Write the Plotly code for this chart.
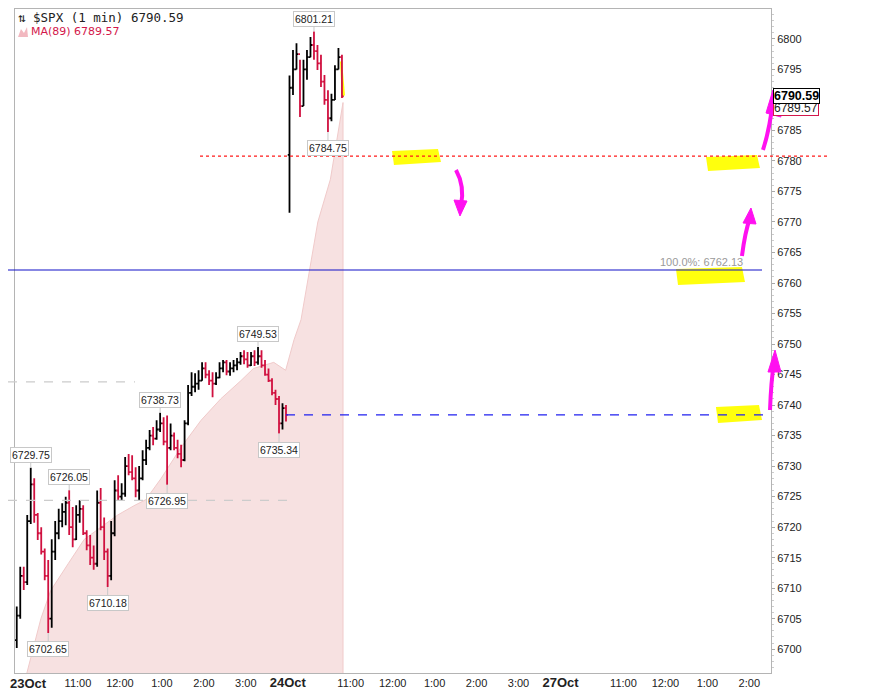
import plotly.graph_objects as go

oct23_open = [6701.5, 6705.5, 6712.0, 6711.0, 6721.0, 6727.0, 6722.0, 6719.0, 6716.0, 6712.0,
              6705.0, 6716.0, 6719.0, 6721.0, 6722.5, 6724.0, 6720.0, 6718.0, 6722.0, 6723.0,
              6719.0, 6717.0, 6715.0, 6714.0, 6724.0, 6720.0, 6716.0, 6712.0, 6719.0, 6726.0,
              6725.0, 6725.5, 6730.0, 6729.0, 6728.0, 6726.0, 6728.0, 6731.0, 6733.0, 6735.0,
              6734.5, 6736.0, 6737.0, 6734.0, 6733.0, 6735.0, 6733.0, 6732.0, 6731.0, 6737.0,
              6742.0, 6743.0, 6743.5, 6744.0, 6746.0, 6745.0, 6744.0, 6743.5, 6744.5, 6746.0,
              6747.0, 6745.5, 6746.0, 6746.5, 6747.0, 6748.0, 6747.5, 6746.5, 6748.0, 6747.0,
              6748.0, 6746.5, 6745.0, 6744.0, 6742.0, 6741.0, 6737.0, 6739.5]
oct23_high = [6707.0, 6713.5, 6713.5, 6722.0, 6729.75, 6728.0, 6722.3, 6720.0, 6716.5, 6714.6,
              6718.0, 6721.0, 6723.0, 6723.9, 6725.0, 6726.05, 6723.3, 6723.6, 6724.4, 6723.6,
              6719.5, 6718.7, 6717.0, 6726.0, 6726.4, 6721.6, 6716.5, 6721.0, 6727.7, 6728.5,
              6727.2, 6731.5, 6732.0, 6731.8, 6729.8, 6730.0, 6732.6, 6734.3, 6735.9, 6736.4,
              6737.5, 6738.73, 6738.0, 6738.3, 6737.0, 6735.5, 6734.3, 6733.5, 6737.5, 6743.3,
              6745.4, 6745.2, 6745.7, 6747.0, 6747.0, 6745.7, 6745.4, 6745.4, 6747.0, 6747.4,
              6747.4, 6747.0, 6747.4, 6747.7, 6748.7, 6749.0, 6748.7, 6748.7, 6749.0, 6749.53,
              6749.0, 6747.4, 6746.0, 6744.4, 6742.5, 6741.5, 6740.3, 6740.0]
oct23_low = [6700.2, 6705.0, 6709.7, 6710.5, 6720.5, 6720.7, 6717.9, 6715.5, 6711.3, 6702.65,
             6703.5, 6714.6, 6718.0, 6720.0, 6720.3, 6718.7, 6716.7, 6717.9, 6720.7, 6718.7,
             6716.2, 6713.8, 6713.0, 6713.5, 6719.5, 6714.6, 6710.18, 6711.3, 6718.5, 6724.4,
             6724.4, 6725.0, 6728.5, 6727.7, 6724.9, 6724.4, 6727.7, 6730.2, 6732.6, 6733.4,
             6734.3, 6735.6, 6733.4, 6726.95, 6732.6, 6732.6, 6731.3, 6729.8, 6730.8, 6736.7,
             6741.5, 6742.1, 6742.5, 6744.0, 6744.4, 6743.3, 6741.3, 6743.3, 6744.4, 6745.4,
             6744.9, 6744.8, 6745.4, 6745.7, 6746.6, 6746.7, 6746.1, 6746.4, 6746.4, 6746.6,
             6746.1, 6744.8, 6743.8, 6741.6, 6740.0, 6735.34, 6736.0, 6737.3]
oct23_close = [6705.5, 6712.0, 6711.0, 6721.0, 6727.0, 6722.0, 6719.0, 6716.0, 6712.0, 6705.0,
               6716.0, 6719.0, 6721.0, 6722.5, 6724.0, 6720.0, 6718.0, 6722.0, 6723.0, 6719.0,
               6717.0, 6715.0, 6714.0, 6724.0, 6720.0, 6716.0, 6712.0, 6719.0, 6726.0, 6725.0,
               6725.5, 6730.0, 6729.0, 6728.0, 6726.0, 6728.0, 6731.0, 6733.0, 6735.0, 6734.5,
               6736.0, 6737.0, 6734.0, 6733.0, 6735.0, 6733.0, 6732.0, 6731.0, 6737.0, 6742.0,
               6743.0, 6743.5, 6744.0, 6746.0, 6745.0, 6744.0, 6743.5, 6744.5, 6746.0, 6747.0,
               6745.5, 6746.0, 6746.5, 6747.0, 6748.0, 6747.5, 6746.5, 6748.0, 6747.0, 6748.0,
               6746.5, 6745.0, 6744.0, 6742.0, 6741.0, 6737.0, 6739.5, 6738.4]

oct24_open = [6781.0, 6792.0, 6795.0, 6797.5, 6789.0, 6795.0, 6797.0, 6799.0,
              6798.0, 6796.0, 6793.0, 6790.0, 6787.0, 6790.0, 6795.0, 6797.0]
oct24_high = [6794.0, 6798.2, 6799.3, 6796.6, 6796.6, 6798.2, 6800.3, 6801.21,
              6799.0, 6797.4, 6794.1, 6791.6, 6791.0, 6795.7, 6798.5, 6797.4]
oct24_low = [6771.5, 6790.8, 6795.0, 6787.2, 6789.0, 6793.3, 6797.0, 6796.6,
             6794.9, 6792.1, 6789.2, 6784.75, 6786.5, 6790.0, 6795.0, 6790.3]
oct24_close = [6792.0, 6795.0, 6797.5, 6789.0, 6795.0, 6797.0, 6799.0, 6798.0,
               6796.0, 6793.0, 6790.0, 6787.0, 6790.0, 6795.0, 6797.0, 6790.59]

# MA(89) (session minute slot, value)
ma_minutes = [10, 37, 51, 76, 99, 123, 147, 170, 187, 209, 237, 266, 294, 323, 341, 370, 387,
              399, 409, 433, 451, 469]
ma_values = [6693.0, 6705.0, 6709.6, 6714.0, 6718.0, 6720.0, 6722.0, 6723.5, 6724.5, 6728.0,
             6733.0, 6737.5, 6741.0, 6744.0, 6746.0, 6747.0, 6745.7, 6750.7, 6754.0, 6770.0,
             6777.0, 6789.57]

hi_labels = [6729.75, 6726.05, 6738.73, 6749.53, 6801.21]
lo_labels = [6702.65, 6710.18, 6726.95, 6735.34, 6784.75]

level_red = 6780.8
level_fib = 6762.13
level_grey = [6743.8, 6724.4]
last_price = 6790.59
last_ma = 6789.57

day_labels = ["23Oct", "24Oct", "27Oct"]
hour_labels = ["11:00", "12:00", "1:00", "2:00", "3:00"]
hour_minutes = [90, 150, 210, 270, 330]

DAY = 390   # minutes per session
BAR = 5     # minutes per bar
Y_RANGE = [6696.1, 6804.9]
X_RANGE = [0, 1081]

x23 = [i * BAR + BAR / 2 for i in range(len(oct23_open))]
x24 = [DAY + i * BAR + BAR / 2 for i in range(len(oct24_open))]
xs = x23 + x24
opens = oct23_open + oct24_open
highs = oct23_high + oct24_high
lows = oct23_low + oct24_low
closes = oct23_close + oct24_close

# plot box in window pixels; the page body adds an 8px offset
L, R, T, B = 15, 771, 9, 673
W, H = 892, 692
OFF = 8


def px(x):
    return (x - L) / (R - L)


def py(y):
    return (B - y) / (B - T)


def path(points, close=False):
    s = "M " + " L ".join(f"{px(a):.4f},{py(b):.4f}" for a, b in points)
    return s + (" Z" if close else "")


def curve(p0, c, p1):
    return (f"M {px(p0[0]):.4f},{py(p0[1]):.4f} Q {px(c[0]):.4f},{py(c[1]):.4f} "
            f"{px(p1[0]):.4f},{py(p1[1]):.4f}")


fig = go.Figure()

fig.add_trace(go.Ohlc(
    x=xs, open=opens, high=highs, low=lows, close=closes,
    increasing=dict(line=dict(color="#000000", width=1.8)),
    decreasing=dict(line=dict(color="#d0103f", width=1.8)),
    tickwidth=0.5, showlegend=False))

shapes = []

# MA(89) shaded area, drawn beneath the bars
ma_path = f"M {ma_minutes[0]},{Y_RANGE[0] - 10} "
ma_path += " ".join(f"L {m},{v}" for m, v in zip(ma_minutes, ma_values))
ma_path += f" L {ma_minutes[-1]},{Y_RANGE[0] - 10} Z"
shapes.append(dict(type="path", xref="x", yref="y", layer="below", path=ma_path,
                   fillcolor="#f7e1e1", line=dict(color="#f0caca", width=1)))

yellow = "rgba(255,255,0,0.95)"
for x0, y0, x1, y1 in [(392, 149, 441, 165), (706, 155, 760, 171), (676, 267, 745, 285),
                       (716, 405, 762, 423), (340, 60, 345, 98)]:
    shapes.append(dict(type="path", xref="paper", yref="paper", layer="below",
                       path=path([(x0, y0 + 2), (x1 - 3, y0), (x1, y1 - 3), (x0 + 2, y1)], True),
                       fillcolor=yellow, line=dict(width=0)))

shapes += [
    dict(type="line", xref="paper", yref="y", x0=px(200), x1=px(827), y0=level_red, y1=level_red,
         line=dict(color="#ff1a1a", width=1.2, dash="dot")),
    dict(type="line", xref="paper", yref="y", x0=px(OFF), x1=px(762), y0=level_fib, y1=level_fib,
         line=dict(color="#1010c8", width=1.2)),
    dict(type="line", xref="x", yref="y", x0=x23[-1], x1=X_RANGE[1], y0=oct23_close[-1],
         y1=oct23_close[-1], line=dict(color="#2020f0", width=1.2, dash="dash")),
    dict(type="line", xref="paper", yref="y", x0=px(OFF), x1=px(135), y0=level_grey[0],
         y1=level_grey[0], line=dict(color="#cccccc", width=1.2, dash="dash")),
    dict(type="line", xref="paper", yref="y", x0=px(OFF), x1=px(295), y0=level_grey[1],
         y1=level_grey[1], line=dict(color="#cccccc", width=1.2, dash="dash")),
]

# hand-drawn magenta arrows
magenta = "#ff10f0"
for p0, c, p1, head in [
    ((456, 170), (465, 186), (461, 206), [(454, 200), (467, 201), (460, 216)]),
    ((742, 256), (745, 232), (750, 218), [(743, 223), (756, 224), (751, 208)]),
    ((763, 150), (770, 128), (773, 100), [(766, 113), (781, 117), (773, 90)]),
    ((770, 410), (771, 382), (774, 362), [(768, 372), (781, 372), (775, 350)]),
]:
    shapes.append(dict(type="path", xref="paper", yref="paper", path=curve(p0, c, p1),
                       line=dict(color=magenta, width=4)))
    shapes.append(dict(type="path", xref="paper", yref="paper", path=path(head, True),
                       fillcolor=magenta, line=dict(color=magenta, width=1)))

# small MA legend icon
shapes.append(dict(type="path", xref="paper", yref="paper",
                   path=path([(18, 37), (21, 29), (24, 33), (27, 27), (28, 37)], True),
                   fillcolor="#f2b8c0", line=dict(width=0)))

annotations = []
for v in hi_labels:
    x = xs[highs.index(v)]
    annotations.append(dict(x=x, y=v, text=f"{v:.2f}", showarrow=True, ax=0, ay=-13,
                            arrowhead=0, arrowcolor="#c8c8c8", arrowwidth=1,
                            bgcolor="white", bordercolor="#c8c8c8", borderpad=1,
                            font=dict(size=10.5, color="#222")))
for v in lo_labels:
    x = xs[lows.index(v)]
    annotations.append(dict(x=x, y=v, text=f"{v:.2f}", showarrow=True, ax=0, ay=16,
                            arrowhead=0, arrowcolor="#c8c8c8", arrowwidth=1,
                            bgcolor="white", bordercolor="#c8c8c8", borderpad=1,
                            font=dict(size=10.5, color="#222")))

annotations += [
    dict(xref="paper", yref="paper", x=px(16), y=py(17), xanchor="left", yanchor="middle",
         text=f"⇅ $SPX (1 min) {closes[-1]:.2f}", showarrow=False,
         font=dict(family="DejaVu Sans Mono", size=12.5, color="#222")),
    dict(xref="paper", yref="paper", x=px(29), y=py(32), xanchor="left", yanchor="middle",
         text=f"MA(89) {last_ma:.2f}", showarrow=False,
         font=dict(family="DejaVu Sans", size=11, color="#d3174b")),
    dict(xref="paper", yref="y", x=px(745), y=level_fib, yshift=8, xanchor="right",
         text=f"100.0%: {level_fib:.2f}", showarrow=False,
         font=dict(size=11, color="#9a9a9a")),
    dict(xref="paper", yref="y", x=px(773), y=last_ma, xanchor="left", yshift=-5,
         text=f"{last_ma:.2f}", showarrow=False, bgcolor="white", bordercolor="#d3174b",
         borderpad=0, font=dict(size=12, color="#222")),
    dict(xref="paper", yref="y", x=px(773), y=last_price, xanchor="left",
         text=f"<b>{last_price:.2f}</b>", showarrow=False, bgcolor="white",
         bordercolor="#000", borderwidth=1, borderpad=0,
         font=dict(size=12.5, color="#000")),
    # first day label sits at the window edge, so it is placed inside the page
    dict(xref="paper", yref="paper", x=px(OFF), y=py(683), xanchor="left", yanchor="middle",
         text=f"<b>{day_labels[0]}</b>", showarrow=False,
         font=dict(family="Liberation Sans Narrow, Liberation Sans", size=13, color="#222")),
]

tickvals, ticktext = [], []
for d, name in enumerate(day_labels):
    if d > 0:
        tickvals.append(d * DAY)
        ticktext.append(f"<b><span style='font-size:13px'>{name}</span></b>")
    for m, lab in zip(hour_minutes, hour_labels):
        tickvals.append(d * DAY + m)
        ticktext.append(lab)

fig.update_layout(
    width=W - OFF, height=H - OFF, autosize=False,
    margin=dict(l=L - OFF, r=W - R, t=T - OFF, b=H - B, pad=0, autoexpand=False),
    paper_bgcolor="white", plot_bgcolor="white",
    font=dict(family="Liberation Sans", size=11, color="#222"),
    shapes=shapes, annotations=annotations, showlegend=False,
    xaxis=dict(range=X_RANGE, tickmode="array", tickvals=tickvals, ticktext=ticktext,
               showgrid=False, zeroline=False, showline=True, mirror=True,
               linecolor="#b4b4b4", linewidth=1, ticks="", ticklabeloverflow="allow",
               automargin=False,
               tickfont=dict(family="Liberation Sans Narrow, Liberation Sans", size=11),
               rangeslider=dict(visible=False), fixedrange=True),
    yaxis=dict(range=Y_RANGE, side="right", dtick=5, tick0=6700,
               showgrid=False, zeroline=False, showline=True, mirror=True,
               linecolor="#b4b4b4", linewidth=1, ticks="outside", ticklen=3,
               tickcolor="#aaaaaa", automargin=False,
               minor=dict(dtick=1, ticks="outside", ticklen=2, tickcolor="#cccccc"),
               tickfont=dict(size=11, color="#222"), fixedrange=True),
)

fig.write_html("out.html")
